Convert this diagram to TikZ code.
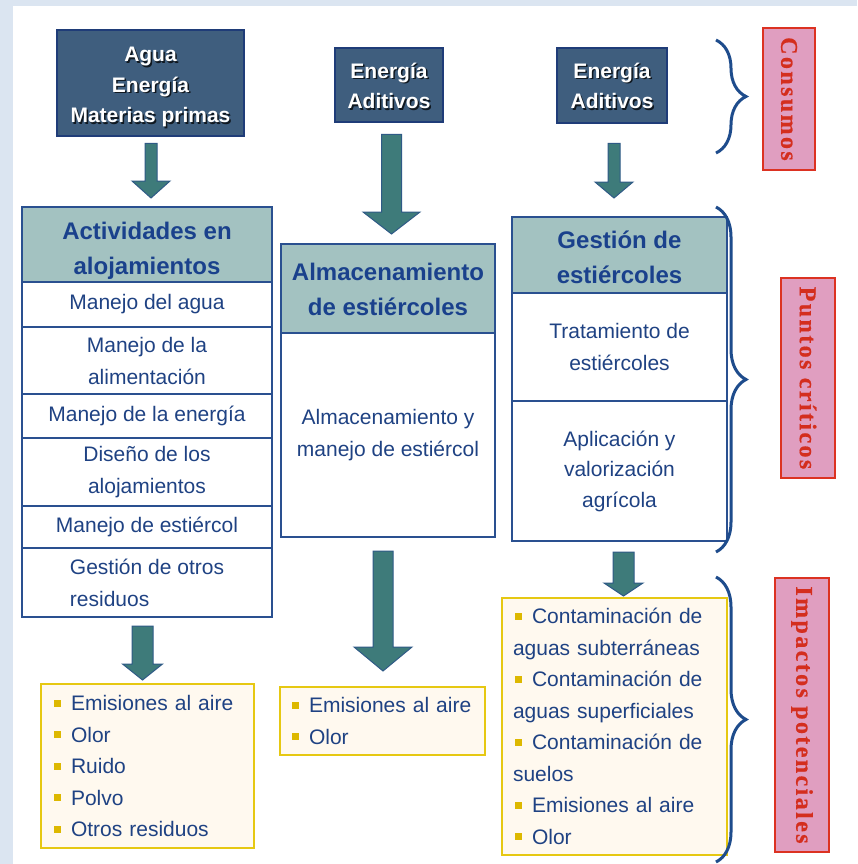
\documentclass[tikz,border=0pt]{standalone}
\usepackage{fontspec}
\setmainfont{Liberation Sans}
\newfontfamily\labelfont{Liberation Serif}[LetterSpace=10,FakeBold=0.6]
\usetikzlibrary{calc,decorations.pathreplacing}
\setlength{\parindent}{0pt}
\definecolor{bgblue}{HTML}{DBE5F1}
\definecolor{darkfill}{HTML}{3F5E7E}
\definecolor{darkline}{HTML}{1F3C78}
\definecolor{shadowc}{HTML}{101820}
\definecolor{headfill}{HTML}{A3C2C1}
\definecolor{boxline}{HTML}{2A5090}
\definecolor{headtext}{HTML}{1A418C}
\definecolor{bodytext}{HTML}{1F4283}
\definecolor{arrowfill}{HTML}{3E7B7A}
\definecolor{arrowline}{HTML}{2F5A86}
\definecolor{yelline}{HTML}{E6C812}
\definecolor{yelfill}{HTML}{FFF9EF}
\definecolor{bulletc}{HTML}{DDB800}
\definecolor{braceline}{HTML}{1E4C8C}
\definecolor{pinkfill}{HTML}{E09EC0}
\definecolor{pinkline}{HTML}{DC3222}
\definecolor{pinktext}{HTML}{D42E1E}
\newcommand{\shtxt}[1]{\makebox[0pt][l]{\hspace{1.5pt}\raisebox{-1.5pt}{\textcolor{shadowc}{#1}}}\textcolor{white}{#1}}
\newcommand{\bul}{\textcolor{bulletc}{\raisebox{4pt}{\rule{7pt}{7pt}}}\hspace{10pt}}
\newcommand{\blockarrow}[5]{%
  \path[blockarr] let \p1=#1, \p2=#2 in
    (\x1-#3,\y1) -- (\x1+#3,\y1) -- (\x1+#3,\y2+#5) -- (\x1+#4,\y2+#5) --
    (\x1,\y2) -- (\x1-#4,\y2+#5) -- (\x1-#3,\y2+#5) -- cycle;}
\begin{document}
\begin{tikzpicture}[x=1pt,y=-1pt,
  darkbox/.style={draw=darkline, fill=darkfill, line width=2.5pt, inner sep=0pt, align=center,
    font=\bfseries\fontsize{21}{30.5}\selectfont},
  headbox/.style={draw=boxline, fill=headfill, line width=2pt, inner sep=0pt, align=center,
    text=headtext, font=\bfseries\fontsize{24}{35}\selectfont},
  rowbox/.style={draw=boxline, fill=white, line width=2pt, inner sep=0pt, align=center,
    text=bodytext, font=\fontsize{21}{32}\selectfont},
  yelbox/.style={draw=yelline, fill=yelfill, line width=2pt, inner ysep=0pt, align=left,
    text=bodytext, font=\fontsize{21}{31.5}\selectfont},
  pinkbox/.style={draw=pinkline, fill=pinkfill, line width=2pt, inner sep=0pt, rotate=-90,
    text=pinktext, font=\labelfont\bfseries\fontsize{24}{26}\selectfont},
  blockarr/.style={fill=arrowfill, draw=arrowline, line width=1pt},
  bracestyle/.style={draw=braceline, line width=3pt, decorate,
    decoration={brace, amplitude=30pt}}]
% background
\path[use as bounding box, fill=white] (0,0) rectangle (857,864);
\fill[bgblue] (0,0) rectangle (857,6);
\fill[bgblue] (0,0) rectangle (13,864);
% consumption boxes
\node[darkbox, minimum width=187pt, minimum height=106pt, text height=93pt, text depth=13pt] (in1) at (150.5,83)
  {\shtxt{Agua}\\\shtxt{Energía}\\\shtxt{Materias primas}};
\node[darkbox, minimum width=108pt, minimum height=74pt, text height=61pt, text depth=13pt] (in2) at (389,85)
  {\shtxt{Energía}\\\shtxt{Aditivos}};
\node[darkbox, minimum width=110pt, minimum height=75pt, text height=61pt, text depth=14pt] (in3) at (612,85.5)
  {\shtxt{Energía}\\\shtxt{Aditivos}};
% left column
\node[headbox, minimum width=250pt, minimum height=75pt, text height=67pt, text depth=8pt] (actH) at (147,244.5) {Actividades en\\alojamientos};
\node[rowbox, minimum width=250pt, minimum height=45pt] (actR1) at (147,304.5) {Manejo del agua};
\node[rowbox, minimum width=250pt, minimum height=67pt] (actR2) at (147,360.5) {Manejo de la\\alimentación};
\node[rowbox, minimum width=250pt, minimum height=44pt] (actR3) at (147,416) {Manejo de la energía};
\node[rowbox, minimum width=250pt, minimum height=68pt] (actR4) at (147,472) {Diseño de los\\alojamientos};
\node[rowbox, minimum width=250pt, minimum height=42pt] (actR5) at (147,527) {Manejo de estiércol};
\node[rowbox, minimum width=250pt, minimum height=69pt, align=left] (actR6) at (147,582.5) {Gestión de otros\\residuos};
% middle column
\node[headbox, minimum width=214pt, minimum height=89pt, text height=71pt, text depth=18pt] (almH) at (388,288.5) {Almacenamiento\\de estiércoles};
\node[rowbox, minimum width=214pt, minimum height=204pt] (almB) at (388,435) {Almacenamiento y\\manejo de estiércol};
% right column
\node[headbox, minimum width=215pt, minimum height=76pt, text height=66pt, text depth=10pt] (gesH) at (619.5,255) {Gestión de\\estiércoles};
\node[rowbox, minimum width=215pt, minimum height=108pt] (gesR1) at (619.5,347) {Tratamiento de\\estiércoles};
\node[rowbox, minimum width=215pt, minimum height=140pt, font=\fontsize{21}{30.5}\selectfont] (gesR2) at (619.5,471) {Aplicación y\\valorización\\agrícola};
% impact boxes
\node[yelbox, inner xsep=13pt, text width=187pt, minimum height=164pt] (yel1) at (147.5,766)
  {\mbox{\bul Emisiones al aire}\\\mbox{\bul Olor}\\\mbox{\bul Ruido}\\\mbox{\bul Polvo}\\\mbox{\bul Otros residuos}};
\node[yelbox, inner xsep=12pt, text width=181pt, minimum height=68pt] (yel2) at (382.5,721)
  {\mbox{\bul Emisiones al aire}\\\mbox{\bul Olor}};
\node[yelbox, inner xsep=11pt, text width=203pt, minimum height=257pt] (yel3) at (614.5,726.5)
  {\mbox{\hspace*{2pt}\bul Contaminación de}\\\mbox{aguas subterráneas}\\
   \mbox{\hspace*{2pt}\bul Contaminación de}\\\mbox{aguas superficiales}\\
   \mbox{\hspace*{2pt}\bul Contaminación de}\\\mbox{suelos}\\
   \mbox{\hspace*{2pt}\bul Emisiones al aire}\\\mbox{\hspace*{2pt}\bul Olor}};
% block arrows
\blockarrow{($(in1.south)+(0.5,6)$)}{($(actH.north)+(4,-8)$)}{6pt}{19pt}{17pt}
\blockarrow{($(in2.south)+(2.5,11)$)}{($(almH.north)+(3.5,-9)$)}{10pt}{28.5pt}{22pt}
\blockarrow{($(in3.south)+(2,19)$)}{($(gesH.north)+(0,-18)$)}{6pt}{19pt}{16pt}
\blockarrow{($(actR6.south)+(-4.5,8)$)}{($(yel1.north)+(-5.5,-3)$)}{10.5pt}{20pt}{16pt}
\blockarrow{($(almB.south)+(-5,13)$)}{($(yel2.north)+(0.5,-15)$)}{10pt}{29pt}{24pt}
\blockarrow{($(gesR2.south)+(4,10)$)}{($(yel3.north)+(9,-1)$)}{10.5pt}{19.5pt}{13pt}
% braces
\coordinate (b1a) at (716,40);  \coordinate (b1b) at (716,153);
\coordinate (b2a) at (716,207); \coordinate (b2b) at (716,552);
\coordinate (b3a) at (716,577); \coordinate (b3b) at (716,862);
\draw[bracestyle] (b1a) -- (b1b);
\draw[bracestyle] (b2a) -- (b2b);
\draw[bracestyle] (b3a) -- (b3b);
% labels
\node[pinkbox, minimum width=142pt, minimum height=52pt] (lab1) at (789,99) {Consumos};
\node[pinkbox, minimum width=200pt, minimum height=54pt] (lab2) at (808,378) {Puntos críticos};
\node[pinkbox, minimum width=274pt, minimum height=54pt] (lab3) at (802,715) {Impactos potenciales};
\end{tikzpicture}
\end{document}
